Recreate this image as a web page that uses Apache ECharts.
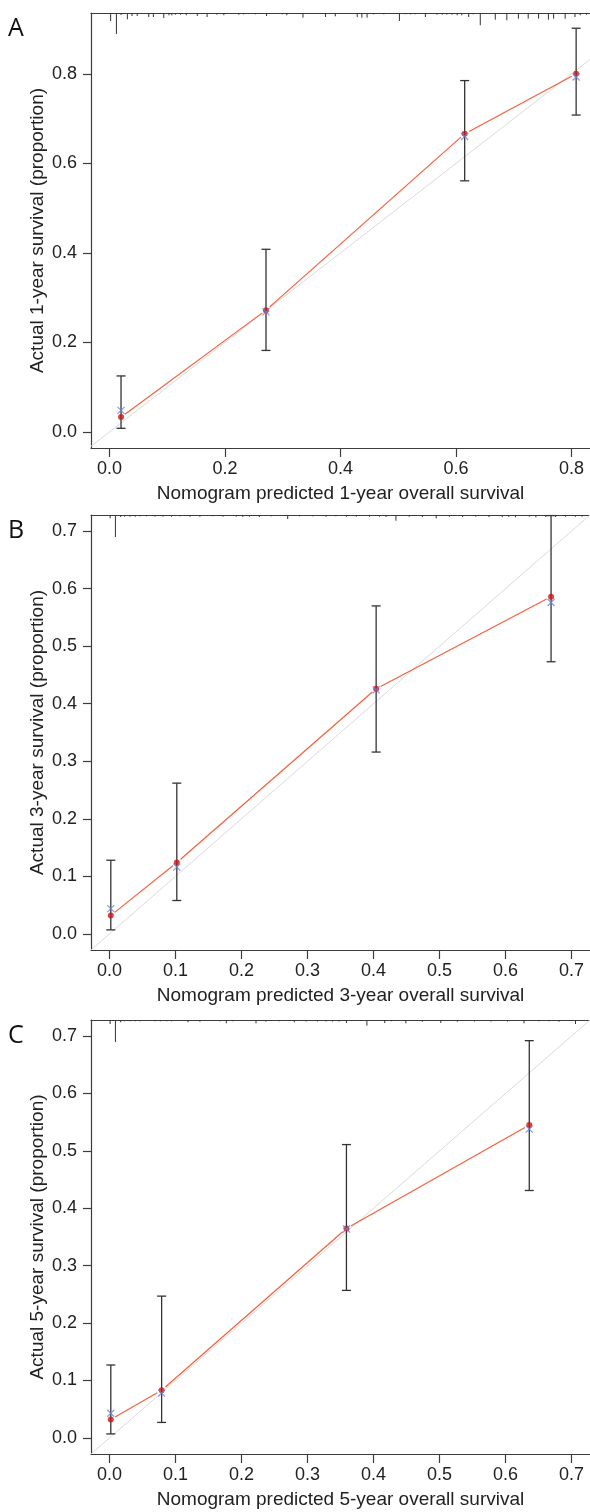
<!DOCTYPE html>
<html>
<head>
<meta charset="utf-8">
<script src="https://cdn.jsdelivr.net/npm/echarts@6/dist/echarts.min.js"></script>
<style>
  html, body { margin: 0; padding: 0; background: #fff; }
  #chart { width: 590px; height: 1512px; }
</style>
</head>
<body>
<div id="chart"></div>
<script>
// panel labels and titles
const panelLetters = ['A', 'B', 'C'];
const xTitles = [
  'Nomogram predicted 1-year overall survival',
  'Nomogram predicted 3-year overall survival',
  'Nomogram predicted 5-year overall survival'
];
const yTitles = [
  'Actual 1-year survival (proportion)',
  'Actual 3-year survival (proportion)',
  'Actual 5-year survival (proportion)'
];

// axis ranges (R adds 4% to xlim / ylim)
const xRangeA = [-0.032, 0.832];
const yRangeA = [-0.036, 0.936];
const xRangeB = [-0.028, 0.728];
const yRangeB = [-0.028, 0.728];
const xRangeC = [-0.028, 0.728];
const yRangeC = [-0.028, 0.728];

// tick labels
const ticksA = [0, 0.2, 0.4, 0.6, 0.8];
const ticksBC = [0, 0.1, 0.2, 0.3, 0.4, 0.5, 0.6, 0.7];

// 1-year
const predA = [0.020, 0.271, 0.615, 0.808];
const obsA = [0.033, 0.272, 0.666, 0.800];
const corrA = [0.048, 0.268, 0.660, 0.793];
const lowA = [0.008, 0.182, 0.561, 0.708];
const highA = [0.125, 0.408, 0.785, 0.902];

// 3-year
const predB = [0.002, 0.102, 0.404, 0.669];
const obsB = [0.032, 0.124, 0.426, 0.586];
const corrB = [0.044, 0.116, 0.424, 0.576];
const lowB = [0.007, 0.058, 0.316, 0.473];
const highB = [0.128, 0.262, 0.570, 0.727];

// 5-year
const predC = [0.002, 0.079, 0.359, 0.636];
const obsC = [0.032, 0.083, 0.365, 0.545];
const corrC = [0.043, 0.078, 0.364, 0.538];
const lowC = [0.007, 0.027, 0.257, 0.431];
const highC = [0.127, 0.247, 0.511, 0.692];

// distribution of predictions (spikes along the top)
const rugXA = [0.002, 0.012, 0.020, 0.031, 0.039, 0.048, 0.068, 0.076, 0.094, 0.103, 0.108, 0.114, 0.123, 0.133,
  0.152, 0.169, 0.186, 0.198, 0.224, 0.232, 0.253, 0.272, 0.299, 0.307, 0.335, 0.374, 0.391, 0.429, 0.437, 0.446,
  0.457, 0.475, 0.502, 0.512, 0.521, 0.529, 0.547, 0.567, 0.576, 0.584, 0.593, 0.602, 0.610, 0.622, 0.630, 0.642,
  0.668, 0.688, 0.708, 0.725, 0.743, 0.760, 0.769, 0.789, 0.806, 0.815, 0.826];
const rugFreqA = [8, 21, 2, 6.3, 3, 3, 4, 4, 5, 2.3, 2.3, 1.7, 1.7, 2.3,
  3, 4, 1.7, 2.3, 1.7, 1.3, 1.3, 3, 1.3, 2.3, 4.7, 4, 3.3, 4, 4.7, 4.7,
  1.3, 1.3, 8, 1.3, 1.3, 1.3, 4, 1.7, 1.7, 1.7, 1.7, 2.3, 2.3, 4, 1.3, 12.3,
  6.7, 7.3, 5.7, 5.7, 5.7, 6.7, 5.7, 5.7, 4, 2.3, 1.7];

const rugXB = [0.001, 0.009, 0.017, 0.023, 0.031, 0.039, 0.046, 0.056, 0.069, 0.081, 0.094, 0.107, 0.122, 0.137,
  0.157, 0.172, 0.192, 0.202, 0.212, 0.227, 0.245, 0.270, 0.288, 0.308, 0.328, 0.343, 0.359, 0.374, 0.394, 0.409,
  0.419, 0.434, 0.454, 0.474, 0.495, 0.515, 0.535, 0.555, 0.575, 0.595, 0.605, 0.615, 0.636, 0.646, 0.661, 0.676,
  0.691, 0.706, 0.716];
const rugFreqB = [3.3, 22, 2, 1.7, 1.7, 1.7, 1.3, 1.3, 1.7, 1.7, 1.7, 1.3, 1.7, 1.7,
  1.3, 1.7, 1.7, 2, 1.7, 2, 1.3, 4, 1.3, 1.3, 1.7, 1.3, 1.7, 1.7, 1.7, 1.7,
  2, 5.7, 1.7, 2, 3.3, 1.7, 2, 1.7, 2, 2.3, 2, 2.3, 1.7, 2.3, 2, 2,
  1.7, 1.7, 1.7];

const rugXC = [0.001, 0.009, 0.017, 0.023, 0.031, 0.039, 0.046, 0.069, 0.077, 0.087, 0.094, 0.119, 0.137, 0.167,
  0.177, 0.187, 0.222, 0.237, 0.257, 0.280, 0.298, 0.315, 0.328, 0.338, 0.348, 0.359, 0.390, 0.417, 0.427, 0.449,
  0.474, 0.502, 0.527, 0.553, 0.578, 0.603, 0.628, 0.651, 0.666, 0.681, 0.706];
const rugFreqC = [4, 22, 2.3, 1.3, 1.3, 1.3, 1.3, 1.3, 1.3, 1.3, 1.3, 2.3, 1.7, 1.3,
  3.3, 1.3, 3.3, 1.7, 1.3, 2.3, 1.5, 1.5, 1.5, 1.5, 1.5, 3, 5.7, 3, 1.3, 3.3,
  1.7, 3, 1.7, 1.5, 1.5, 1.5, 3.3, 1.3, 1.3, 1.7, 4];

const panels = [
  { x: xRangeA, y: yRangeA, ticks: ticksA, pred: predA, obs: obsA, corr: corrA, low: lowA, high: highA, rugX: rugXA, rugF: rugFreqA, top: 13, height: 435 },
  { x: xRangeB, y: yRangeB, ticks: ticksBC, pred: predB, obs: obsB, corr: corrB, low: lowB, high: highB, rugX: rugXB, rugF: rugFreqB, top: 515, height: 435 },
  { x: xRangeC, y: yRangeC, ticks: ticksBC, pred: predC, obs: obsC, corr: corrC, low: lowC, high: highC, rugX: rugXC, rugF: rugFreqC, top: 1020, height: 434 }
];

const axisColor = '#3c3c3c';
const font = "'Liberation Sans', Arial, Helvetica, sans-serif";
const fmt = v => v.toFixed(1);

let grids = [], xAxes = [], yAxes = [], series = [], graphics = [];

panels.forEach((p, i) => {
  grids.push({ left: 91, top: p.top, width: 499, height: p.height });

  // bottom axis
  xAxes.push({
    type: 'value', gridIndex: i, min: p.x[0], max: p.x[1], position: 'bottom',
    name: xTitles[i], nameLocation: 'middle', nameGap: 36, nameMoveOverlap: false,
    nameTextStyle: { fontFamily: font, fontSize: 19, color: '#222' },
    axisLine: { show: true, onZero: false, lineStyle: { color: axisColor, width: 1.2 } },
    axisTick: { show: true, length: 9, customValues: p.ticks, lineStyle: { color: axisColor, width: 1.2 } },
    axisLabel: { customValues: p.ticks, formatter: fmt, margin: 12, fontFamily: font, fontSize: 18, color: '#222' },
    splitLine: { show: false }
  });

  yAxes.push({
    type: 'value', gridIndex: i, min: p.y[0], max: p.y[1],
    name: yTitles[i], nameLocation: 'middle', nameGap: 44, nameMoveOverlap: false,
    nameTextStyle: { fontFamily: font, fontSize: 19, color: '#222' },
    axisLine: { show: true, onZero: false, lineStyle: { color: axisColor, width: 1.2 } },
    axisTick: { show: true, length: 8, customValues: p.ticks, lineStyle: { color: axisColor, width: 1.2 } },
    axisLabel: { customValues: p.ticks, formatter: fmt, margin: 14, fontFamily: font, fontSize: 18, color: '#222' },
    splitLine: { show: false }
  });

  // ideal line y = x
  series.push({
    type: 'line', xAxisIndex: i, yAxisIndex: i, silent: true, symbol: 'none',
    lineStyle: { color: '#dadada', width: 1 },
    data: [[p.x[0], p.x[0]], [p.x[1], p.x[1]]],
    clip: true, z: 1
  });

  // observed line, drawn like R type "b" (gaps round the points)
  series.push({
    type: 'custom', xAxisIndex: i, yAxisIndex: i, silent: true, z: 2,
    data: p.pred.map((v, k) => [v, p.obs[k], k]),
    renderItem: (params, api) => {
      const k = api.value(2);
      if (k === 0) return null;
      const a = api.coord([p.pred[k - 1], p.obs[k - 1]]);
      const b = api.coord([api.value(0), api.value(1)]);
      const dx = b[0] - a[0], dy = b[1] - a[1];
      const len = Math.sqrt(dx * dx + dy * dy);
      const g = 5 / len;
      return {
        type: 'line',
        shape: { x1: a[0] + dx * g, y1: a[1] + dy * g, x2: b[0] - dx * g, y2: b[1] - dy * g },
        style: { stroke: '#f5603c', lineWidth: 1.2 }
      };
    }
  });

  // error bars
  series.push({
    type: 'custom', xAxisIndex: i, yAxisIndex: i, silent: true, z: 3,
    data: p.pred.map((v, k) => [v, p.low[k], p.high[k]]),
    renderItem: (params, api) => {
      const lo = api.coord([api.value(0), api.value(1)]);
      const hi = api.coord([api.value(0), api.value(2)]);
      const style = { stroke: '#333', lineWidth: 1.3 };
      return {
        type: 'group',
        children: [
          { type: 'line', shape: { x1: lo[0], y1: lo[1], x2: hi[0], y2: hi[1] }, style },
          { type: 'line', shape: { x1: lo[0] - 4.5, y1: lo[1], x2: lo[0] + 4.5, y2: lo[1] }, style },
          { type: 'line', shape: { x1: hi[0] - 4.5, y1: hi[1], x2: hi[0] + 4.5, y2: hi[1] }, style }
        ]
      };
    }
  });

  // observed points
  series.push({
    type: 'scatter', xAxisIndex: i, yAxisIndex: i, silent: true, z: 4,
    symbol: 'circle', symbolSize: 6,
    itemStyle: { color: '#cc1414' },
    data: p.pred.map((v, k) => [v, p.obs[k]])
  });

  // bias-corrected points
  series.push({
    type: 'scatter', xAxisIndex: i, yAxisIndex: i, silent: true, z: 5,
    symbol: 'path://M0,0L10,10M10,0L0,10', symbolSize: 7,
    itemStyle: { color: 'none', borderColor: '#6a80d8', borderWidth: 1.2 },
    data: p.pred.map((v, k) => [v, p.corr[k]])
  });

  // spikes hanging from the top border
  const yTop = p.y[1];
  series.push({
    type: 'custom', xAxisIndex: i, yAxisIndex: i, silent: true, z: 3,
    data: p.rugX.map((v, k) => [v, p.rugF[k]]),
    encode: { x: 0 },
    renderItem: (params, api) => {
      const c = api.coord([api.value(0), yTop]);
      return {
        type: 'line',
        shape: { x1: c[0], y1: c[1], x2: c[0], y2: c[1] + api.value(1) },
        style: { stroke: '#333', lineWidth: 1 }
      };
    }
  });

  // panel letter
  graphics.push({
    type: 'text', left: 8, top: p.top + 3,
    style: { text: panelLetters[i], fontFamily: "'Open Sans', sans-serif", fontSize: 25, fill: '#111' }
  });
});

// top border of each box
panels.forEach((p, i) => {
  xAxes.push({
    type: 'value', gridIndex: i, min: p.x[0], max: p.x[1], position: 'top',
    axisLine: { show: true, onZero: false, lineStyle: { color: axisColor, width: 1.2 } },
    axisTick: { show: false }, axisLabel: { show: false }, splitLine: { show: false }
  });
});

const chart = echarts.init(document.getElementById('chart'), null, { renderer: 'canvas' });
chart.setOption({
  animation: false,
  backgroundColor: '#fff',
  grid: grids,
  xAxis: xAxes,
  yAxis: yAxes,
  series: series,
  graphic: graphics
});
</script>
</body>
</html>
